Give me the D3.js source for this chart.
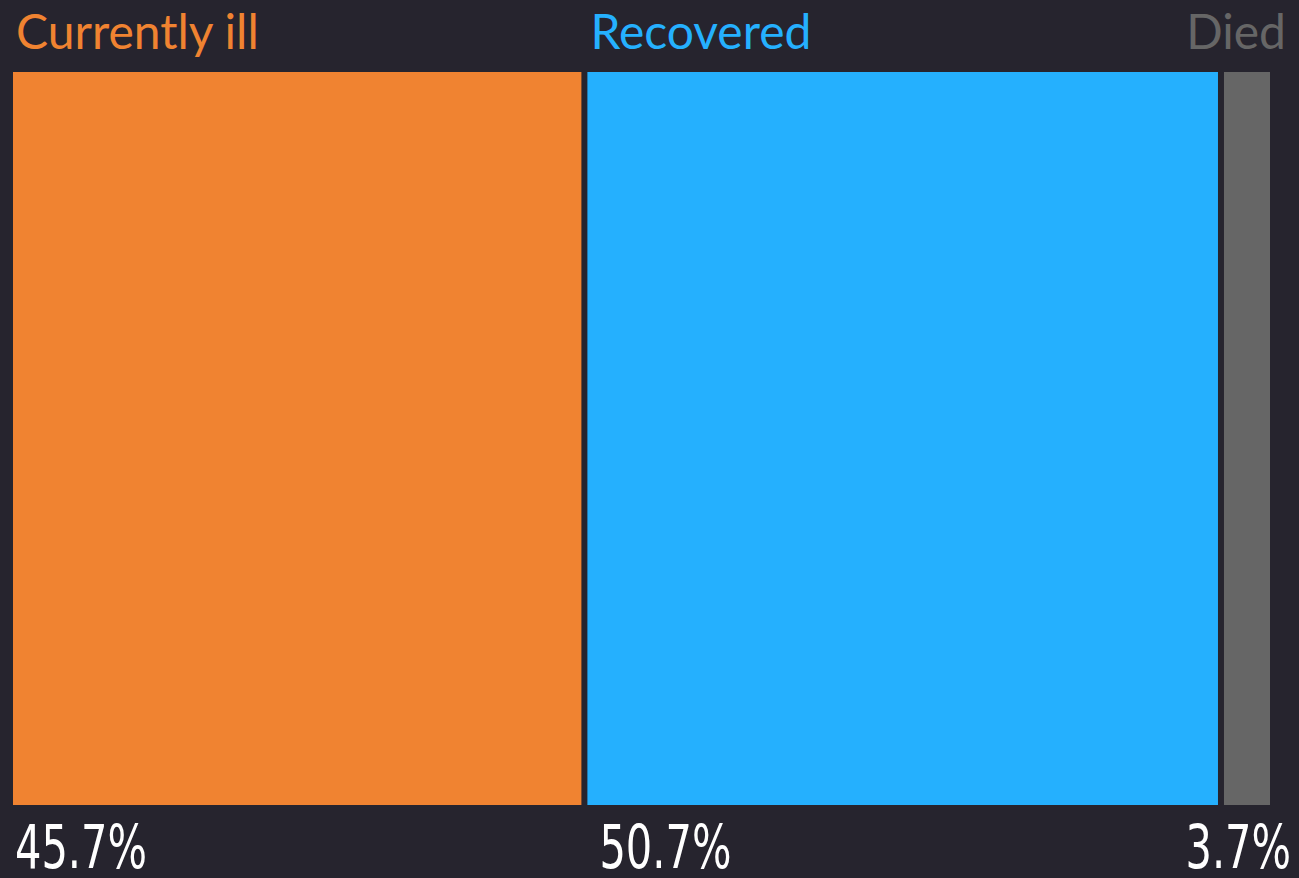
<!DOCTYPE html>
<html>
<head>
<meta charset="utf-8">
<script src="https://cdn.jsdelivr.net/npm/d3@7"></script>
<style>
  body { margin: 0; background: #26242e; }
  .label { font-family: Lato, "Noto Sans", sans-serif; font-size: 48px; }
  .pct { font-family: "DejaVu Sans Condensed", "Liberation Sans Narrow", sans-serif; font-size: 60px; fill: #ffffff; }
</style>
</head>
<body>
<div id="chart"></div>
<script>
var categories = ["Currently ill", "Recovered", "Died"];
var values = [45.7, 50.7, 3.7];
var colors = ["#f08331", "#25b0fe", "#666666"];

var width = 1299,
    height = 878,
    marginLeft = 13,
    barTop = 72,
    barBottom = 805,
    gap = 6;

var svg = d3.select("#chart").append("svg")
    .attr("width", width)
    .attr("height", height);

var x = d3.scaleLinear()
    .domain([0, d3.sum(values)])
    .range([0, 1245]);

// stack the bars left to right with a small gap
var data = [];
var acc = 0;
values.forEach(function(v, i) {
    data.push({ name: categories[i], value: v, color: colors[i], x0: marginLeft + x(acc) + i * gap, w: x(v) });
    acc += v;
});

svg.selectAll("rect")
    .data(data)
    .enter().append("rect")
    .attr("x", function(d) { return d.x0; })
    .attr("y", barTop)
    .attr("width", function(d) { return d.w; })
    .attr("height", barBottom - barTop)
    .attr("fill", function(d) { return d.color; });

var last = data.length - 1;

svg.selectAll(".label")
    .data(data)
    .enter().append("text")
    .attr("class", "label")
    .attr("x", function(d, i) { return i == last ? width - 13 : d.x0 + 3; })
    .attr("y", 49)
    .attr("text-anchor", function(d, i) { return i == last ? "end" : "start"; })
    .attr("fill", function(d) { return d.color; })
    .text(function(d) { return d.name; });

// condensed look for the percentages
svg.selectAll(".pct")
    .data(data)
    .enter().append("text")
    .attr("class", "pct")
    .attr("transform", function(d, i) {
        var px = i == last ? width - 8 : d.x0 + 2 + (i == 1 ? 10 : 0);
        return "translate(" + px + ",868) scale(0.77,1)";
    })
    .attr("text-anchor", function(d, i) { return i == last ? "end" : "start"; })
    .text(function(d) { return d.value.toFixed(1) + "%"; });
</script>
</body>
</html>
